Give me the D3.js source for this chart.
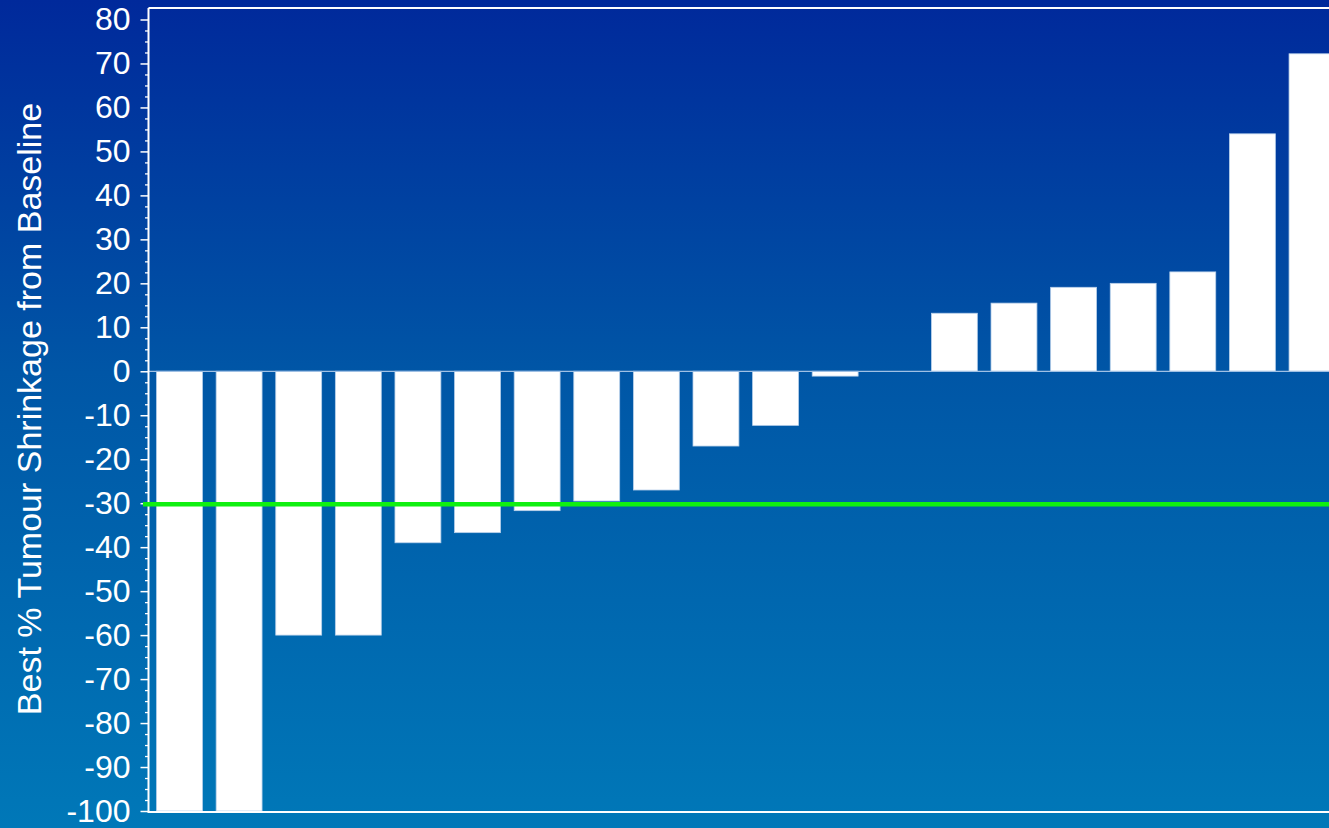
<!DOCTYPE html>
<html>
<head>
<meta charset="utf-8">
<script src="https://cdn.jsdelivr.net/npm/d3@7"></script>
<style>
  html, body { margin: 0; padding: 0; overflow: hidden; }
  body { width: 1329px; height: 828px; }
  svg { display: block; font-family: "Liberation Sans", Arial, sans-serif; }
</style>
</head>
<body>
<svg id="chart" width="1329" height="828"></svg>
<script>
// ---- data ----
const patients = d3.range(1, 21).map(String);
const shrinkage = [-100, -100, -60, -60, -39, -36.7, -31.7, -29.5, -27, -17, -12.3, -1.1, 0,
                   13.2, 15.5, 19.1, 20, 22.6, 54, 72.2];
const yTickValues = d3.range(-100, 81, 10);
const minorTickValues = d3.range(-100, 81, 2.5).filter(v => v % 10 !== 0);
const threshold = -30;
const yLabel = "Best % Tumour Shrinkage from Baseline";

// ---- layout ----
const W = 1329, H = 828;
const axisX = 148.5, plotTop = 8, plotBottom = 812;
const svg = d3.select("#chart");

const defs = svg.append("defs");
const grad = defs.append("linearGradient").attr("id", "bg").attr("x1", 0).attr("y1", 0).attr("x2", 0).attr("y2", 1);
grad.append("stop").attr("offset", "0%").attr("stop-color", "#00299b");
grad.append("stop").attr("offset", "45%").attr("stop-color", "#0056a6");
grad.append("stop").attr("offset", "100%").attr("stop-color", "#0078b8");
svg.append("rect").attr("width", W).attr("height", H).attr("fill", "url(#bg)");

const y = d3.scaleLinear().domain([-100, 80]).range([811, 19.5]);
const x = d3.scaleBand().domain(patients).range([axisX, 1343]).paddingInner(0.23).paddingOuter(0.135);

// bars
svg.append("g").selectAll("rect").data(shrinkage).join("rect")
  .attr("x", (d, i) => x(patients[i]))
  .attr("width", x.bandwidth())
  .attr("y", d => y(Math.max(0, d)))
  .attr("height", d => Math.abs(y(d) - y(0)))
  .attr("fill", "#ffffff")
  .attr("stroke", "#b8d0ea")
  .attr("stroke-width", 0.8);

// zero line
svg.append("line").attr("x1", axisX).attr("x2", W).attr("y1", y(0)).attr("y2", y(0))
  .attr("stroke", "#9fc0e4").attr("stroke-width", 1.2);

// frame lines
svg.append("line").attr("x1", axisX).attr("x2", W).attr("y1", plotTop).attr("y2", plotTop)
  .attr("stroke", "#ffffff").attr("stroke-width", 2);
svg.append("line").attr("x1", axisX).attr("x2", W).attr("y1", plotBottom).attr("y2", plotBottom)
  .attr("stroke", "#ffffff").attr("stroke-width", 2);

// y axis
const yAxis = d3.axisLeft(y).tickValues(yTickValues).tickSize(8).tickPadding(10).tickFormat(d => String(d));
const gy = svg.append("g").attr("transform", `translate(${axisX},0)`).call(yAxis);
gy.select(".domain").remove();
gy.selectAll(".tick line").attr("stroke", "#ffffff").attr("stroke-width", 1.5);
gy.selectAll(".tick text").attr("fill", "#ffffff").attr("font-size", 32)
  .attr("font-family", "Liberation Sans, Arial, sans-serif");
const minorAxis = d3.axisLeft(y).tickValues(minorTickValues).tickSize(3.5).tickFormat("");
const gm = svg.append("g").attr("transform", `translate(${axisX},0)`).call(minorAxis);
gm.select(".domain").remove();
gm.selectAll(".tick line").attr("stroke", "#ffffff").attr("stroke-width", 1.3);
svg.append("line").attr("x1", axisX).attr("x2", axisX).attr("y1", plotTop).attr("y2", plotBottom + 1)
  .attr("stroke", "#ffffff").attr("stroke-width", 2);

// threshold line
svg.append("line").attr("x1", 143).attr("x2", W).attr("y1", y(threshold) + 1).attr("y2", y(threshold) + 1)
  .attr("stroke", "#10f010").attr("stroke-width", 4.5);

// y label
svg.append("text")
  .attr("transform", `translate(41,409) rotate(-90)`)
  .attr("text-anchor", "middle")
  .attr("fill", "#ffffff")
  .attr("font-size", 34)
  .text(yLabel);
</script>
</body>
</html>
